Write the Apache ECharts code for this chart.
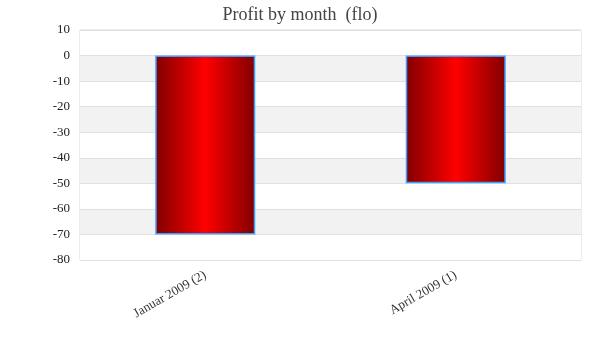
<!DOCTYPE html>
<html><head><meta charset="utf-8">
<script src="https://cdn.jsdelivr.net/npm/echarts@6/dist/echarts.min.js"></script>
<style>html,body{margin:0;padding:0;background:#fff}#c{width:600px;height:360px}</style>
</head><body><div id="c"></div>
<script>
var categories = ["Januar 2009 (2)", "April 2009 (1)"];
var profit = [-70, -50];
var titleText = "Profit by month  (flo)";

var chart = echarts.init(document.getElementById('c'), null, {renderer: 'canvas'});
var font = "'Liberation Serif', 'DejaVu Serif', serif";
chart.setOption({
  animation: false,
  backgroundColor: '#fff',
  title: {text: titleText, left: 'center', top: 1,
    textStyle: {fontFamily: font, fontSize: 18, fontWeight: 'normal', color: '#444'}},
  grid: {left: 80, right: 19, top: 30, bottom: 100, show: true, borderColor: '#d9d9d9', borderWidth: 1},
  xAxis: {type: 'category', data: categories,
    axisLine: {show: false}, axisTick: {show: false}, splitLine: {show: false},
    axisLabel: {rotate: 30, margin: 14, fontFamily: font, fontSize: 13, color: '#333'}},
  yAxis: {type: 'value', min: -80, max: 10, interval: 10,
    axisLine: {show: false}, axisTick: {show: false},
    axisLabel: {fontFamily: font, fontSize: 13, color: '#222', margin: 10},
    splitLine: {show: true, lineStyle: {color: '#e0e0e0', width: 1}},
    splitArea: {show: true, areaStyle: {color: ['#ffffff', '#f2f2f2']}}},
  series: [{type: 'bar', data: profit, barWidth: 100,
    itemStyle: {
      color: new echarts.graphic.LinearGradient(0, 0, 1, 0, [
        {offset: 0, color: '#800000'},
        {offset: 0.5, color: '#ff0000'},
        {offset: 1, color: '#800000'}
      ]),
      borderColor: '#3aa0ff', borderWidth: 1.5
    }}]
});
</script></body></html>
